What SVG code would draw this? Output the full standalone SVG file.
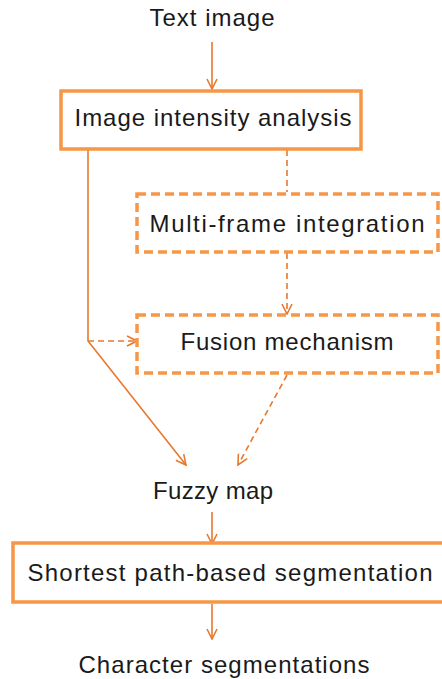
<svg xmlns="http://www.w3.org/2000/svg" width="442" height="679" viewBox="0 0 442 679">
<defs>
<marker id="arr" viewBox="0 0 12 12" refX="11" refY="6" markerWidth="12" markerHeight="12" markerUnits="userSpaceOnUse" orient="auto">
<path d="M1,1 L11,6 L1,11" fill="none" stroke="#E8782F" stroke-width="1.6"/>
</marker>
<style>
.t{font-family:"Liberation Sans",Arial,sans-serif;font-size:24px;fill:#1a1a1a;text-anchor:middle}
.box{fill:#fff;stroke:#F79646;stroke-width:3.5}
.dbox{fill:#fff;stroke:#F79646;stroke-width:3.5;stroke-dasharray:9 5}
.c{fill:none;stroke:#E8782F;stroke-width:1.6}
.cd{fill:none;stroke:#E8782F;stroke-width:1.6;stroke-dasharray:6 4}
</style>
</defs>
<rect width="442" height="679" fill="#fff"/>
<g id="connectors">
<line class="c" x1="212" y1="42" x2="212" y2="89" marker-end="url(#arr)"/>
<polyline class="c" points="88,150 88,341 186,465" marker-end="url(#arr)"/>
<line class="cd" x1="88" y1="341" x2="137" y2="341" marker-end="url(#arr)"/>
<line class="cd" x1="287" y1="150" x2="287" y2="192"/>
<line class="cd" x1="287" y1="253" x2="287" y2="314" marker-end="url(#arr)"/>
<line class="cd" x1="287" y1="375" x2="238" y2="465" marker-end="url(#arr)"/>
<line class="c" x1="212" y1="512" x2="212" y2="544" marker-end="url(#arr)"/>
<line class="c" x1="212" y1="604" x2="212" y2="639" marker-end="url(#arr)"/>
</g>
<g id="text-image"><text class="t" x="212" y="26" textLength="125">Text image</text></g>
<g id="intensity">
<rect class="box" x="61" y="91" width="300" height="58"/>
<text class="t" x="213" y="126" textLength="277">Image intensity analysis</text>
</g>
<g id="multiframe">
<rect class="dbox" x="137" y="194" width="301" height="58"/>
<text class="t" x="287" y="232" textLength="275">Multi-frame integration</text>
</g>
<g id="fusion">
<rect class="dbox" x="137" y="315" width="301" height="58"/>
<text class="t" x="287" y="350" textLength="213">Fusion mechanism</text>
</g>
<g id="fuzzy"><text class="t" x="213" y="499" textLength="120">Fuzzy map</text></g>
<g id="shortest">
<rect class="box" x="13" y="543" width="440" height="59"/>
<text class="t" x="230" y="581" textLength="405">Shortest path-based segmentation</text>
</g>
<g id="character"><text class="t" x="224" y="673" textLength="291">Character segmentations</text></g>
</svg>
